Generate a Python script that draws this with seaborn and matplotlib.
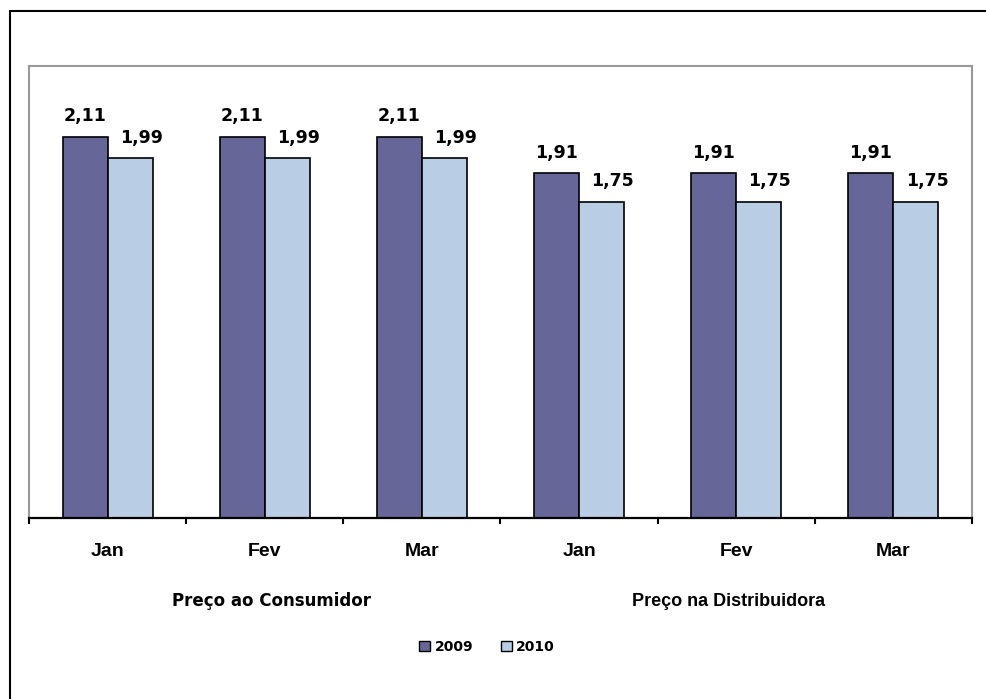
import pandas as pd
import numpy as np
import matplotlib.pyplot as plt
import matplotlib.patches as mpatches
from matplotlib.lines import Line2D
import seaborn as sns

# dados
grupos = ['Preço ao Consumidor', 'Preço na Distribuidora']
meses = ['Jan', 'Fev', 'Mar']
anos = ['2009', '2010']
valores_2009 = [2.11, 2.11, 2.11, 1.91, 1.91, 1.91]
valores_2010 = [1.99, 1.99, 1.99, 1.75, 1.75, 1.75]
cores = ['#666699', '#B9CDE5']

chaves = [f'{g}|{m}' for g in grupos for m in meses]
rotulos_x = [m for g in grupos for m in meses]

df = pd.DataFrame({
    'chave': chaves * 2,
    'ano': ['2009'] * 6 + ['2010'] * 6,
    'valor': valores_2009 + valores_2010,
})

sns.set_style('white')
plt.rcParams['font.family'] = ['DejaVu Sans']
plt.rcParams['text.color'] = 'black'
plt.rcParams['xtick.color'] = 'black'
plt.rcParams['xtick.labelcolor'] = 'black'

fig = plt.figure(figsize=(9.87, 6.99), dpi=100)
W, H = 987, 699
ax = fig.add_axes([29 / W, 1 - 518 / H, (972 - 29) / W, (518 - 66) / H])

sns.barplot(data=df, x='chave', y='valor', hue='ano', order=chaves, hue_order=anos,
            palette=cores, width=0.573, gap=0, edgecolor='black', linewidth=1.2,
            saturation=1, legend=False, ax=ax)

ax.set_ylim(0, 2.5)
ax.set_xlim(-0.5, 5.5)
ax.set_yticks([])
ax.set_xlabel('')
ax.set_ylabel('')

# rótulos de valores
for cont, dx in zip(ax.containers, [0, 8]):
    for barra in cont:
        v = barra.get_height()
        ax.annotate(f'{v:.2f}'.replace('.', ','),
                    (barra.get_x() + barra.get_width() / 2, v),
                    xytext=(dx, 8), textcoords='offset points',
                    ha='center', va='bottom', fontsize=12.5, fontweight='bold',
                    color='black')

# eixo x
ax.set_xticks(range(6))
ax.set_xticklabels(rotulos_x, fontsize=14, fontweight='bold', color='black',
                   family=['Liberation Sans', 'DejaVu Sans'])
ax.tick_params(axis='x', which='major', length=0, pad=18)
ax.set_xticks(np.arange(-0.5, 6, 1), minor=True)
ax.tick_params(axis='x', which='minor', bottom=True, length=4.5, width=1.5,
               color='black', direction='out')

for lado in ['left', 'top', 'right']:
    ax.spines[lado].set_color('#999999')
    ax.spines[lado].set_linestyle((0, (1, 1)))
    ax.spines[lado].set_linewidth(1.5)
ax.spines['bottom'].set_color('black')
ax.spines['bottom'].set_linewidth(1.6)

# rótulos dos grupos
fig.text(272 / W, 1 - 601 / H, grupos[0], ha='center', va='center',
         fontsize=12, fontweight='bold', color='black')
fig.text(729 / W, 1 - 601 / H, grupos[1], ha='center', va='center',
         fontsize=13, fontweight='bold', color='black',
         family=['Liberation Sans', 'DejaVu Sans'])

# legenda
handles = [mpatches.Patch(facecolor=c, edgecolor='black', linewidth=1, label=a)
           for c, a in zip(cores, anos)]
fig.legend(handles=handles, loc='center', bbox_to_anchor=(487 / W, 1 - 647 / H),
           ncol=2, frameon=False, handlelength=0.8, handleheight=0.8,
           handletextpad=0.3, columnspacing=2.0,
           prop={'size': 10, 'weight': 'bold'})

# moldura externa
fig.add_artist(Line2D([10 / W, 10 / W], [0, 1 - 11 / H], color='black', linewidth=1.5))
fig.add_artist(Line2D([10 / W, 1], [1 - 11 / H, 1 - 11 / H], color='black', linewidth=1.5))

fig.savefig('out.png', dpi=100)
